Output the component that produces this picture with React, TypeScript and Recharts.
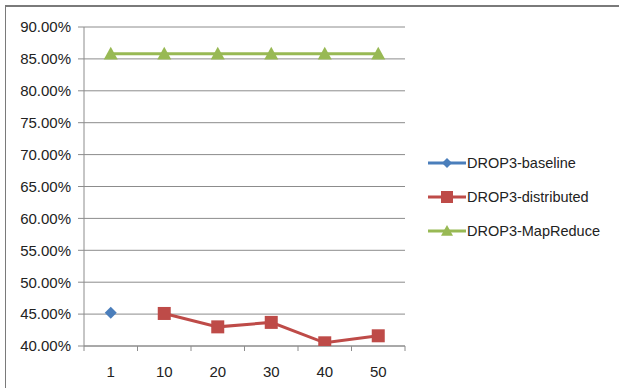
import { CartesianGrid, Line, LineChart, XAxis, YAxis } from "recharts";

const categories = ["1", "10", "20", "30", "40", "50"];
const baseline = [0.452, null, null, null, null, null];
const distributed = [null, 0.451, 0.43, 0.437, 0.405, 0.416];
const mapReduce = [0.858, 0.858, 0.858, 0.858, 0.858, 0.858];
const yTicks = [0.4, 0.45, 0.5, 0.55, 0.6, 0.65, 0.7, 0.75, 0.8, 0.85, 0.9];

const BLUE = "#4A7EBB";
const RED = "#BE4B48";
const GREEN = "#98B954";
const AXIS = "#8c8c8c";
const FONT = "'Liberation Sans', Arial, sans-serif";

const data = categories.map((c, i) => ({
  cat: c,
  baseline: baseline[i],
  distributed: distributed[i],
  mapReduce: mapReduce[i],
}));

const Diamond = ({ cx, cy, color, r = 6 }: any) => (
  <path
    d={`M${cx},${cy - r} L${cx + r},${cy} L${cx},${cy + r} L${cx - r},${cy} Z`}
    fill={color}
  />
);
const Square = ({ cx, cy, color, r = 6 }: any) => (
  <rect x={cx - r} y={cy - r} width={r * 2} height={r * 2} fill={color} />
);
const Triangle = ({ cx, cy, color, r = 7 }: any) => (
  <path
    d={`M${cx},${cy - r} L${cx + r},${cy + r * 0.8} L${cx - r},${cy + r * 0.8} Z`}
    fill={color}
  />
);

// category label plus Excel-style tick marks between categories
const CatTick = ({ x, y, payload, index }: any) => {
  const off = payload.offset ?? 0;
  const last = index === categories.length - 1;
  return (
    <g>
      <line x1={x - off} y1={y} x2={x - off} y2={y + 5} stroke={AXIS} />
      {last && <line x1={x + off} y1={y} x2={x + off} y2={y + 5} stroke={AXIS} />}
      <text x={x} y={y + 31} textAnchor="middle" fill="#222" fontSize={15} fontFamily={FONT}>
        {payload.value}
      </text>
    </g>
  );
};

const legendItems = [
  { label: "DROP3-baseline", color: BLUE, shape: "diamond" },
  { label: "DROP3-distributed", color: RED, shape: "square" },
  { label: "DROP3-MapReduce", color: GREEN, shape: "triangle" },
];

const CustomLegend = () => (
  <div
    style={{
      position: "absolute",
      left: 428,
      top: 146,
      fontFamily: FONT,
      fontSize: 14.5,
      color: "#222",
    }}
  >
    {legendItems.map((item) => (
      <div
        key={item.label}
        style={{ display: "flex", alignItems: "center", height: 34 }}
      >
        <svg width={38} height={16}>
          <line x1={0} y1={8} x2={38} y2={8} stroke={item.color} strokeWidth={3} />
          {item.shape === "diamond" && <Diamond cx={19} cy={8} r={5} color={item.color} />}
          {item.shape === "square" && <Square cx={19} cy={8} r={6} color={item.color} />}
          {item.shape === "triangle" && <Triangle cx={19} cy={8} r={6} color={item.color} />}
        </svg>
        <span style={{ marginLeft: 1 }}>{item.label}</span>
      </div>
    ))}
  </div>
);

export default function App() {
  return (
    <div
      style={{
        position: "absolute",
        left: 0,
        top: 0,
        width: 619,
        height: 388,
        background: "#fff",
      }}
    >
      <div
        style={{
          position: "absolute",
          left: 5,
          top: 5,
          width: 640,
          height: 400,
          borderTop: "2px solid #7a7a7a",
          borderLeft: "1px solid #7a7a7a",
        }}
      />
      <LineChart
        width={619}
        height={388}
        data={data}
        margin={{ top: 27, right: 214, bottom: 0, left: 0 }}
        style={{ fontFamily: FONT }}
      >
        <CartesianGrid vertical={false} stroke={AXIS} strokeWidth={1} />
        <XAxis
          dataKey="cat"
          scale="band"
          stroke={AXIS}
          tickLine={false}
          tickSize={0}
          tickMargin={0}
          height={42}
          interval={0}
          tick={<CatTick />}
        />
        <YAxis
          domain={[0.4, 0.9]}
          ticks={yTicks}
          interval={0}
          width={84}
          tickSize={6}
          tickMargin={7}
          stroke={AXIS}
          tick={{ fill: "#222", fontSize: 15 }}
          tickFormatter={(v: number) => `${(v * 100).toFixed(2)}%`}
          allowDataOverflow
        />
        <Line
          dataKey="baseline"
          stroke={BLUE}
          strokeWidth={3}
          isAnimationActive={false}
          dot={(p: any) => <Diamond key={p.index} cx={p.cx} cy={p.cy} r={6} color={BLUE} />}
        />
        <Line
          dataKey="distributed"
          stroke={RED}
          strokeWidth={3}
          isAnimationActive={false}
          dot={(p: any) =>
            p.value == null ? <g key={p.index} /> : <Square key={p.index} cx={p.cx} cy={p.cy} r={6.5} color={RED} />
          }
        />
        <Line
          dataKey="mapReduce"
          stroke={GREEN}
          strokeWidth={3}
          isAnimationActive={false}
          dot={(p: any) => <Triangle key={p.index} cx={p.cx} cy={p.cy} r={7} color={GREEN} />}
        />
      </LineChart>
      <CustomLegend />
    </div>
  );
}
